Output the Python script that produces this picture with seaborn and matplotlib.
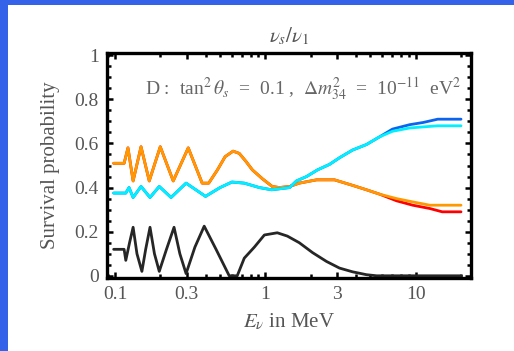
import matplotlib
matplotlib.use("Agg")
import matplotlib.pyplot as plt
import seaborn as sns
import pandas as pd
from matplotlib.patches import Rectangle
from matplotlib.ticker import FixedLocator, LogLocator, MultipleLocator, NullFormatter

# Energies (MeV) and survival probabilities for each channel
e_black = [0.098, 0.115, 0.118, 0.125, 0.132, 0.140, 0.151, 0.160, 0.171, 0.183, 0.197,
           0.220, 0.247, 0.270, 0.297, 0.340, 0.392, 0.470, 0.575, 0.650, 0.724, 0.845,
           0.985, 1.20, 1.40, 1.68, 2.06, 2.55, 3.11, 3.80, 4.70, 5.50, 20.0]
p_black = [0.12, 0.12, 0.07, 0.15, 0.22, 0.10, 0.02, 0.12, 0.22, 0.10, 0.02,
           0.12, 0.22, 0.10, 0.01, 0.13, 0.225, 0.12, 0.00, 0.00, 0.08, 0.13,
           0.185, 0.195, 0.18, 0.15, 0.105, 0.065, 0.035, 0.018, 0.005, 0.0, 0.0]

e_orange = [0.098, 0.115, 0.122, 0.132, 0.149, 0.169, 0.200, 0.244, 0.307, 0.380, 0.420,
            0.480, 0.540, 0.610, 0.670, 0.740, 0.820, 0.955, 1.11, 1.24, 1.45, 1.68,
            2.19, 2.88, 3.80, 4.70, 5.75, 7.45, 9.55, 12.4, 15.0, 20.0]
p_orange = [0.51, 0.51, 0.58, 0.43, 0.585, 0.43, 0.585, 0.43, 0.58, 0.42, 0.42,
            0.48, 0.54, 0.565, 0.555, 0.52, 0.48, 0.44, 0.405, 0.40, 0.405, 0.42,
            0.435, 0.435, 0.41, 0.39, 0.37, 0.35, 0.335, 0.32, 0.32, 0.32]
p_red = [0.51, 0.51, 0.58, 0.43, 0.585, 0.43, 0.585, 0.43, 0.58, 0.42, 0.42,
         0.48, 0.54, 0.565, 0.555, 0.52, 0.48, 0.44, 0.405, 0.40, 0.405, 0.42,
         0.435, 0.435, 0.41, 0.39, 0.37, 0.34, 0.32, 0.305, 0.29, 0.29]

e_cyan = [0.098, 0.118, 0.124, 0.132, 0.149, 0.171, 0.197, 0.236, 0.297, 0.400, 0.500,
          0.600, 0.724, 0.912, 1.10, 1.45, 1.61, 1.88, 2.22, 2.67, 3.11, 3.80, 4.70,
          5.75, 7.00, 9.10, 11.2, 14.0, 20.0]
p_cyan = [0.375, 0.375, 0.40, 0.355, 0.405, 0.355, 0.405, 0.355, 0.42, 0.36, 0.40,
          0.425, 0.42, 0.40, 0.39, 0.40, 0.43, 0.45, 0.48, 0.505, 0.535, 0.57, 0.595,
          0.63, 0.655, 0.67, 0.675, 0.68, 0.68]
p_blue = [0.375, 0.375, 0.40, 0.355, 0.405, 0.355, 0.405, 0.355, 0.42, 0.36, 0.40,
          0.425, 0.42, 0.40, 0.39, 0.40, 0.43, 0.45, 0.48, 0.505, 0.535, 0.57, 0.595,
          0.63, 0.665, 0.685, 0.695, 0.71, 0.71]

x_ticks = [0.1, 0.3, 1, 3, 10]
x_tick_labels = ["0.1", "0.3", "1", "3", "10"]
y_ticks = [0, 0.2, 0.4, 0.6, 0.8, 1]
y_tick_labels = ["0", "0.2", "0.4", "0.6", "0.8", "1"]

sns.set_style("ticks")
plt.rcParams["font.family"] = ["Liberation Serif", "DejaVu Serif"]
plt.rcParams["mathtext.fontset"] = "stix"

fig = plt.figure(figsize=(5.14, 3.51), dpi=100)
fig.patch.set_facecolor("#3462E8")
fig.add_artist(Rectangle((8 / 514, 0), 1, (351 - 5) / 351, transform=fig.transFigure,
                         facecolor="white", edgecolor="none", zorder=0))

ax = fig.add_axes([107 / 514, (351 - 278) / 351, 364 / 514, 225 / 351])
ax.set_facecolor("white")

curves = [
    (e_black, p_black, "#262626"),
    (e_orange, p_red, "#FF0000"),
    (e_orange, p_orange, "#FF9900"),
    (e_cyan, p_blue, "#0A64F0"),
    (e_cyan, p_cyan, "#00F0FF"),
]
for e, p, c in curves:
    df = pd.DataFrame({"E": e, "P": p})
    sns.lineplot(data=df, x="E", y="P", color=c, lw=2.0, ax=ax, estimator=None, sort=False)

ax.set_xscale("log")
ax.set_xlim(0.0885, 23.3)
ax.set_ylim(-0.01, 1.01)

ax.xaxis.set_major_locator(FixedLocator(x_ticks))
ax.set_xticklabels(x_tick_labels)
ax.xaxis.set_minor_locator(LogLocator(base=10, subs=range(1, 10), numticks=20))
ax.xaxis.set_minor_formatter(NullFormatter())
ax.set_yticks(y_ticks)
ax.set_yticklabels(y_tick_labels)
ax.yaxis.set_minor_locator(MultipleLocator(0.05))

ax.tick_params(which="both", direction="in", top=True, right=True, color="black",
               labelcolor="#555555", labelsize=14, width=1.8)
ax.tick_params(which="major", length=4.5, pad=6)
ax.tick_params(which="minor", length=3)
for s in ax.spines.values():
    s.set_linewidth(2.4)
    s.set_color("black")

ax.set_xlabel(r"$E_\nu$ in MeV", fontsize=15, color="#555555", labelpad=6)
ax.set_ylabel("Survival probability", fontsize=15, color="#555555", labelpad=10)
ax.set_title(r"$\nu_s/\nu_1$", fontsize=15, color="#555555", pad=8)

ax.text(0.975, 0.84,
        r"D :  tan$^2\,\theta_s$  =  0.1 ,  $\Delta m^2_{34}$  =  10$^{-11}$  eV$^2$",
        transform=ax.transAxes, ha="right", va="center", fontsize=14, color="#666666")

fig.savefig("out.png", dpi=100, facecolor=fig.get_facecolor())
